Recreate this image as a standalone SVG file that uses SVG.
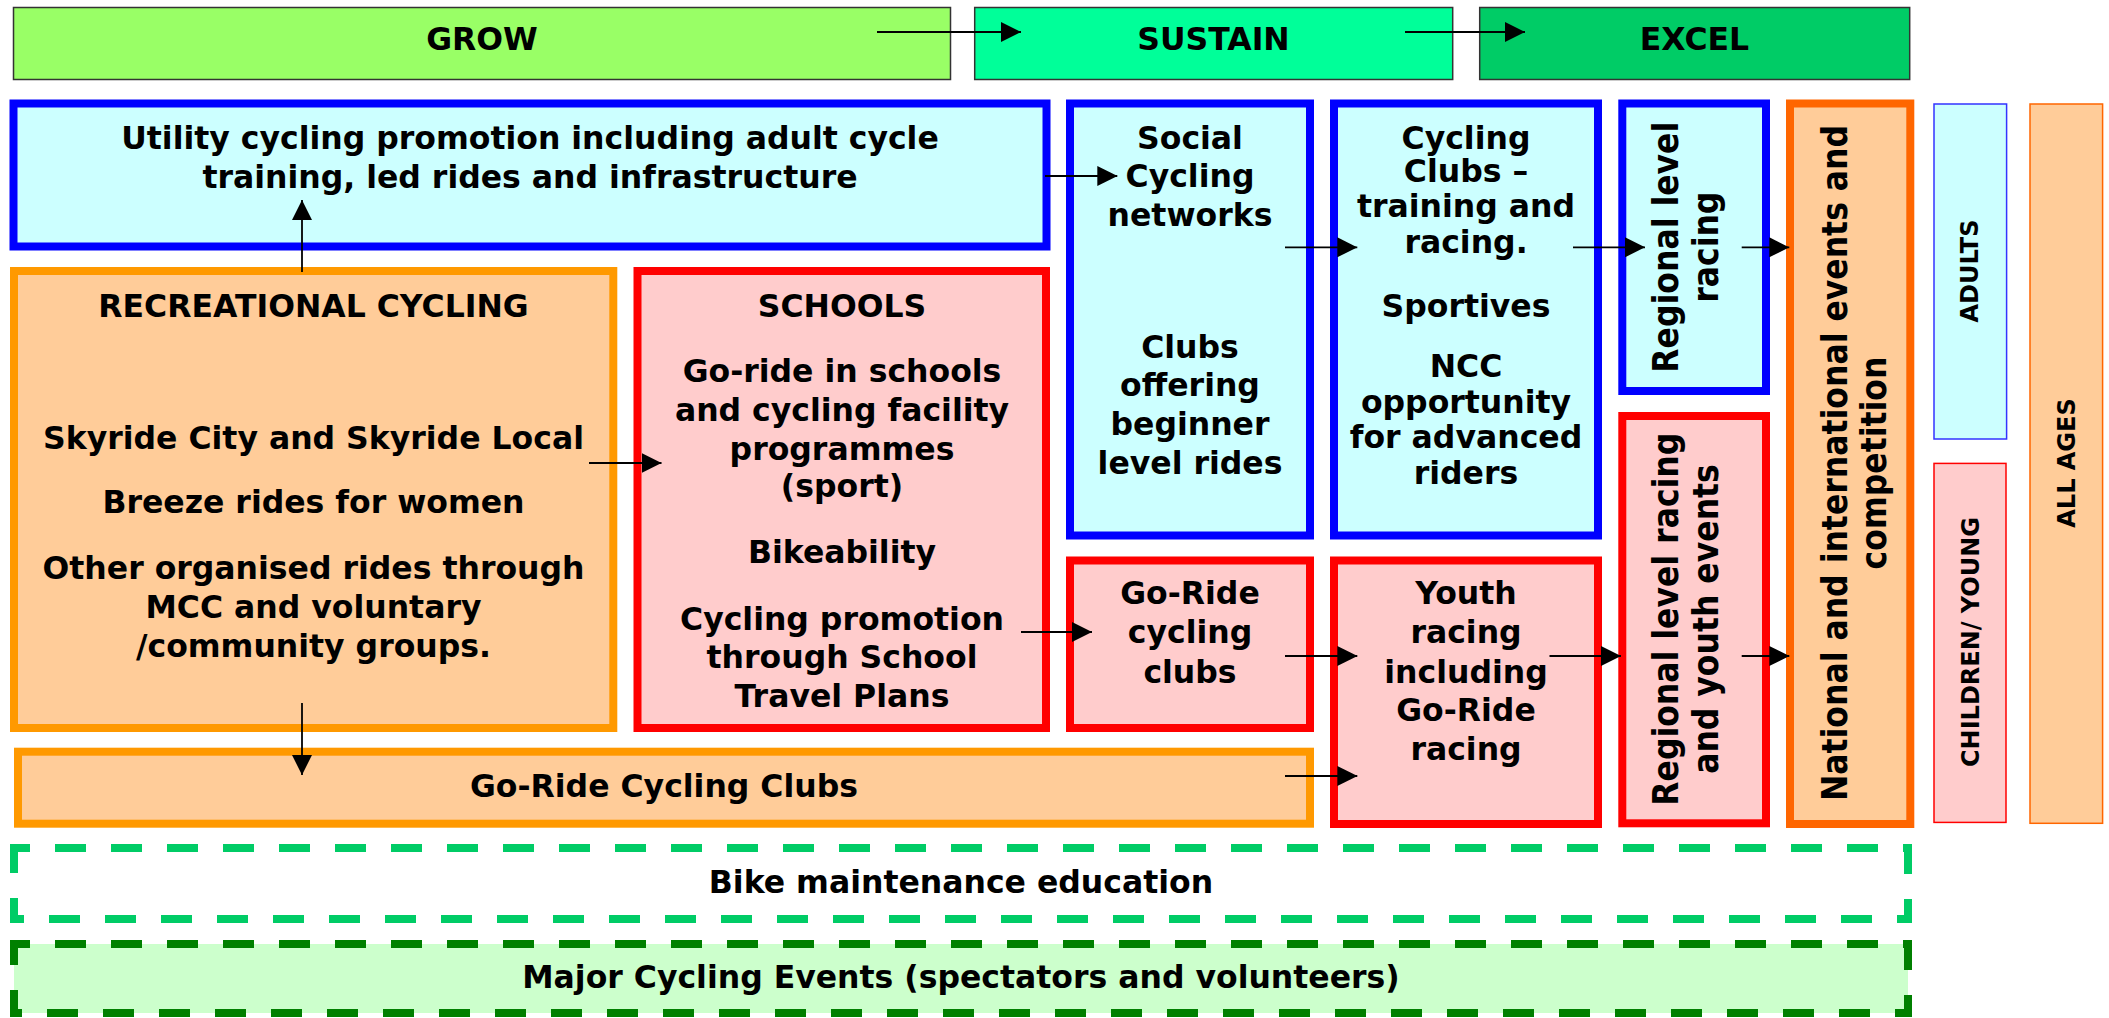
<svg xmlns="http://www.w3.org/2000/svg" width="2109" height="1018" viewBox="0 0 2109 1018">
  <defs>
    <marker id="arrow" markerUnits="userSpaceOnUse" markerWidth="20" markerHeight="20" refX="20" refY="10" orient="auto">
      <path d="M0,0 L20,10 L0,20 Z" fill="#000"/>
    </marker>
    <style>
      text { font-family: "DejaVu Sans", Verdana, sans-serif; font-weight: bold; font-size: 31.5px; fill: #000; text-anchor: middle; }
      text.small { font-size: 24px; }
      .phase { stroke: #333; stroke-width: 1.5; }
      .blue { fill: #CCFFFF; stroke: #0000FF; stroke-width: 8; }
      .orange { fill: #FFCC99; stroke: #FF9900; stroke-width: 8; }
      .red { fill: #FFCCCC; stroke: #FF0000; stroke-width: 8; }
      .nat { fill: #FFCC99; stroke: #FF6600; stroke-width: 8; }
      .thin-blue { fill: #CCFFFF; stroke: #3333FF; stroke-width: 1.5; }
      .thin-red { fill: #FFCCCC; stroke: #FF0000; stroke-width: 1.5; }
      .thin-orange { fill: #FFCC99; stroke: #FF6600; stroke-width: 1.5; }
      .dash-light { fill: none; stroke: #00CC66; stroke-width: 8; stroke-dasharray: 31 25; stroke-dashoffset: 15; }
      .dash-dark { fill: #CCFFCC; stroke: #008000; stroke-width: 8; stroke-dasharray: 31 25; stroke-dashoffset: 15; }
      .conn { stroke: #000; stroke-width: 1.8; fill: none; marker-end: url(#arrow); }
    </style>
  </defs>

  <!-- phase bar -->
  <g id="grow">
    <rect class="phase" x="13.5" y="7.5" width="937" height="72" fill="#99FF66"/>
    <text x="482" y="50">GROW</text>
  </g>
  <g id="sustain">
    <rect class="phase" x="974.7" y="7.5" width="478" height="72" fill="#00FF99"/>
    <text x="1213.5" y="50">SUSTAIN</text>
  </g>
  <g id="excel">
    <rect class="phase" x="1479.7" y="7.5" width="430" height="72" fill="#00CC66"/>
    <text x="1694.5" y="50">EXCEL</text>
  </g>

  <!-- adult pathway -->
  <g id="utility">
    <rect class="blue" x="13.5" y="103.5" width="1033" height="143"/>
    <text x="530" y="149">Utility cycling promotion including adult cycle</text>
    <text x="530" y="188">training, led rides and infrastructure</text>
  </g>
  <g id="social">
    <rect class="blue" x="1070" y="103.5" width="240" height="432"/>
    <text x="1190" y="149">Social</text>
    <text x="1190" y="187">Cycling</text>
    <text x="1190" y="226">networks</text>
    <text x="1190" y="358">Clubs</text>
    <text x="1190" y="396">offering</text>
    <text x="1190" y="435">beginner</text>
    <text x="1190" y="474">level rides</text>
  </g>
  <g id="cycling-clubs">
    <rect class="blue" x="1334" y="103.5" width="264" height="432"/>
    <text x="1466" y="149">Cycling</text>
    <text x="1466" y="182">Clubs –</text>
    <text x="1466" y="217">training and</text>
    <text x="1466" y="253">racing.</text>
    <text x="1466" y="317">Sportives</text>
    <text x="1466" y="377">NCC</text>
    <text x="1466" y="413">opportunity</text>
    <text x="1466" y="448">for advanced</text>
    <text x="1466" y="484">riders</text>
  </g>
  <g id="regional-adult">
    <rect class="blue" x="1622.3" y="103.5" width="143.7" height="287.5"/>
    <text transform="translate(1678,247.2) rotate(-90) scale(1,1.1)">Regional level</text>
    <text transform="translate(1718,247.2) rotate(-90) scale(1,1.1)">racing</text>
  </g>
  <g id="national">
    <rect class="nat" x="1790" y="103.5" width="120.3" height="720.5"/>
    <text transform="translate(1846.5,463) rotate(-90) scale(1,1.1)">National and international events and</text>
    <text transform="translate(1886,463) rotate(-90) scale(1,1.1)">competition</text>
  </g>

  <!-- young people pathway -->
  <g id="recreational">
    <rect class="orange" x="14" y="271" width="599.3" height="457"/>
    <text x="313.5" y="317">RECREATIONAL CYCLING</text>
    <text x="313.5" y="449">Skyride City and Skyride Local</text>
    <text x="313.5" y="513">Breeze rides for women</text>
    <text x="313.5" y="579">Other organised rides through</text>
    <text x="313.5" y="618">MCC and voluntary</text>
    <text x="313.5" y="657">/community groups.</text>
  </g>
  <g id="schools">
    <rect class="red" x="637.5" y="271" width="408.5" height="457"/>
    <text x="842" y="317">SCHOOLS</text>
    <text x="842" y="382">Go-ride in schools</text>
    <text x="842" y="421">and cycling facility</text>
    <text x="842" y="460">programmes</text>
    <text x="842" y="497">(sport)</text>
    <text x="842" y="563">Bikeability</text>
    <text x="842" y="630">Cycling promotion</text>
    <text x="842" y="668">through School</text>
    <text x="842" y="707">Travel Plans</text>
  </g>
  <g id="goride-clubs">
    <rect class="red" x="1070" y="560.5" width="240" height="167.5"/>
    <text x="1190" y="604">Go-Ride</text>
    <text x="1190" y="643">cycling</text>
    <text x="1190" y="683">clubs</text>
  </g>
  <g id="youth">
    <rect class="red" x="1334" y="560.5" width="264" height="263.5"/>
    <text x="1466" y="604">Youth</text>
    <text x="1466" y="643">racing</text>
    <text x="1466" y="683">including</text>
    <text x="1466" y="721">Go-Ride</text>
    <text x="1466" y="760">racing</text>
  </g>
  <g id="regional-youth">
    <rect class="red" x="1622.3" y="416" width="143.7" height="407.3"/>
    <text transform="translate(1678,619.2) rotate(-90) scale(1,1.1)">Regional level racing</text>
    <text transform="translate(1718.3,619) rotate(-90) scale(1,1.1)">and youth events</text>
  </g>
  <g id="goride-wide">
    <rect class="orange" x="18" y="751.7" width="1292" height="72"/>
    <text x="664" y="797">Go-Ride Cycling Clubs</text>
  </g>

  <!-- age bands -->
  <g id="adults">
    <rect class="thin-blue" x="1934" y="104" width="72.6" height="335"/>
    <text class="small" transform="translate(1978.3,271) rotate(-90) scale(1,1.05)">ADULTS</text>
  </g>
  <g id="children">
    <rect class="thin-red" x="1934" y="463.4" width="72" height="359"/>
    <text class="small" transform="translate(1979.3,642) rotate(-90) scale(1,1.05)">CHILDREN/ YOUNG</text>
  </g>
  <g id="all-ages">
    <rect class="thin-orange" x="2030" y="104" width="72.6" height="719.3"/>
    <text class="small" transform="translate(2075,463) rotate(-90) scale(1,1.05)">ALL AGES</text>
  </g>

  <!-- cross-cutting strands -->
  <g id="maintenance">
    <rect class="dash-light" x="14" y="848" width="1894" height="71"/>
    <text x="961" y="893">Bike maintenance education</text>
  </g>
  <g id="major-events">
    <rect class="dash-dark" x="14" y="944" width="1894" height="69"/>
    <text x="961" y="988">Major Cycling Events (spectators and volunteers)</text>
  </g>

  <!-- connectors -->
  <g id="connectors">
    <line class="conn" x1="877" y1="32" x2="1021" y2="32"/>
    <line class="conn" x1="1405" y1="32" x2="1525" y2="32"/>
    <line class="conn" x1="302" y1="272" x2="302" y2="200"/>
    <line class="conn" x1="302" y1="703" x2="302" y2="775"/>
    <line class="conn" x1="589" y1="463" x2="661.5" y2="463"/>
    <line class="conn" x1="1045" y1="176" x2="1117.3" y2="176"/>
    <line class="conn" x1="1285" y1="247.3" x2="1357.3" y2="247.3"/>
    <line class="conn" x1="1573" y1="247.3" x2="1645" y2="247.3"/>
    <line class="conn" x1="1741.7" y1="247.3" x2="1789.3" y2="247.3"/>
    <line class="conn" x1="1021" y1="632" x2="1092" y2="632"/>
    <line class="conn" x1="1285" y1="656" x2="1357.3" y2="656"/>
    <line class="conn" x1="1549.5" y1="656" x2="1621" y2="656"/>
    <line class="conn" x1="1741.7" y1="656" x2="1789.3" y2="656"/>
    <line class="conn" x1="1285" y1="776" x2="1357.3" y2="776"/>
  </g>
</svg>
